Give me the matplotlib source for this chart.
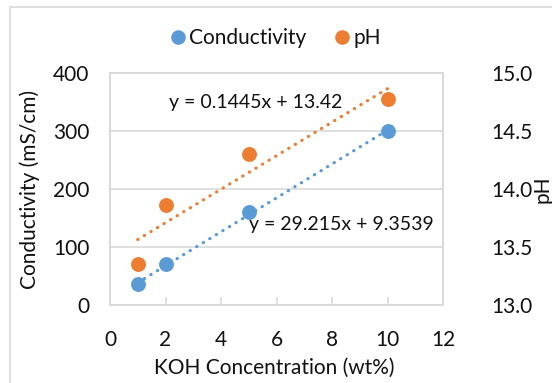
import matplotlib
matplotlib.use("Agg")
import matplotlib.pyplot as plt
from matplotlib.patches import Rectangle
from matplotlib.lines import Line2D

# measured points
koh_wt = [1, 2, 5, 10]
conductivity = [36, 70, 160, 300]        # mS/cm
ph = [13.35, 13.86, 14.30, 14.78]

# linear trendlines (slope, intercept)
cond_fit = (29.215, 9.3539)
ph_fit = (0.1445, 13.42)
fit_range = [1, 10]

x_ticks = [0, 2, 4, 6, 8, 10, 12]
cond_ticks = [0, 100, 200, 300, 400]
ph_ticks = [13.0, 13.5, 14.0, 14.5, 15.0]

BLUE = "#5B9BD5"
ORANGE = "#ED7D31"
GRID = "#D9D9D9"
INK = "#111111"

plt.rcParams["font.family"] = ["Lato", "DejaVu Sans"]
plt.rcParams["font.size"] = 15

fig = plt.figure(figsize=(5.52, 3.83), dpi=100)
fig.patches.append(Rectangle((10 / 552, -0.1), 1.2, 1.1 - 7 / 383,
                             transform=fig.transFigure, fill=False,
                             edgecolor=GRID, lw=1.2))

ax = fig.add_axes([110 / 552, 1 - 305 / 383, 333 / 552, 232 / 383])
ax2 = ax.twinx()

# conductivity series + trend
ax.scatter(koh_wt, conductivity, s=115, color=BLUE, zorder=3, linewidths=0)
ax.plot(fit_range, [cond_fit[0] * x + cond_fit[1] for x in fit_range],
        color=BLUE, lw=2.3, linestyle=(0, (0.1, 2.3)), dash_capstyle="round", zorder=2)

# pH series + trend
ax2.scatter(koh_wt, ph, s=115, color=ORANGE, zorder=3, linewidths=0)
ax2.plot(fit_range, [ph_fit[0] * x + ph_fit[1] for x in fit_range],
         color=ORANGE, lw=2.3, linestyle=(0, (0.1, 2.3)), dash_capstyle="round", zorder=2)

ax.set_xlim(0, 12)
ax.set_ylim(0, 400)
ax2.set_ylim(13.0, 15.0)
ax.set_xticks(x_ticks)
ax.set_yticks(cond_ticks)
ax2.set_yticks(ph_ticks)
ax2.set_yticklabels([f"{v:.1f}" for v in ph_ticks])

ax.grid(axis="y", color=GRID, lw=1.2)
ax.set_axisbelow(True)
for a in (ax, ax2):
    for sp in a.spines.values():
        sp.set_color(GRID)
        sp.set_linewidth(1.2)
ax.tick_params(axis="x", direction="in", length=6, width=1.2, color=GRID,
               pad=18, labelcolor=INK)
ax.tick_params(axis="y", length=0, pad=15, labelcolor=INK)
ax2.tick_params(axis="y", length=0, pad=35, labelcolor=INK)

ax.text(0.438, 0.871, f"y = {ph_fit[0]}x + {ph_fit[1]}", transform=ax.transAxes,
        ha="center", va="center", color=INK, fontsize=14, zorder=5)
ax.text(0.694, 0.345, f"y = {cond_fit[0]}x + {cond_fit[1]}", transform=ax.transAxes,
        ha="center", va="center", color=INK, fontsize=14, zorder=5)

fig.text(274 / 552, 1 - 368 / 383, "KOH Concentration (wt%)",
         ha="center", va="center", color=INK)
fig.text(30 / 552, 1 - 189 / 383, "Conductivity (mS/cm)", rotation=90,
         ha="center", va="center", color=INK)
fig.text(543 / 552, 1 - 189 / 383, "pH", rotation=90,
         ha="center", va="center", color=INK)

handles = [
    Line2D([], [], marker="o", linestyle="none", markersize=10.5,
           markerfacecolor=BLUE, markeredgewidth=0, label="Conductivity"),
    Line2D([], [], marker="o", linestyle="none", markersize=10.5,
           markerfacecolor=ORANGE, markeredgewidth=0, label="pH"),
]
fig.legend(handles=handles, loc="center", bbox_to_anchor=(0.497, 1 - 38 / 383),
           ncol=2, frameon=False, handletextpad=0.05, columnspacing=1.2,
           handlelength=1.0, labelcolor=INK)

fig.savefig("out.png", dpi=100)
